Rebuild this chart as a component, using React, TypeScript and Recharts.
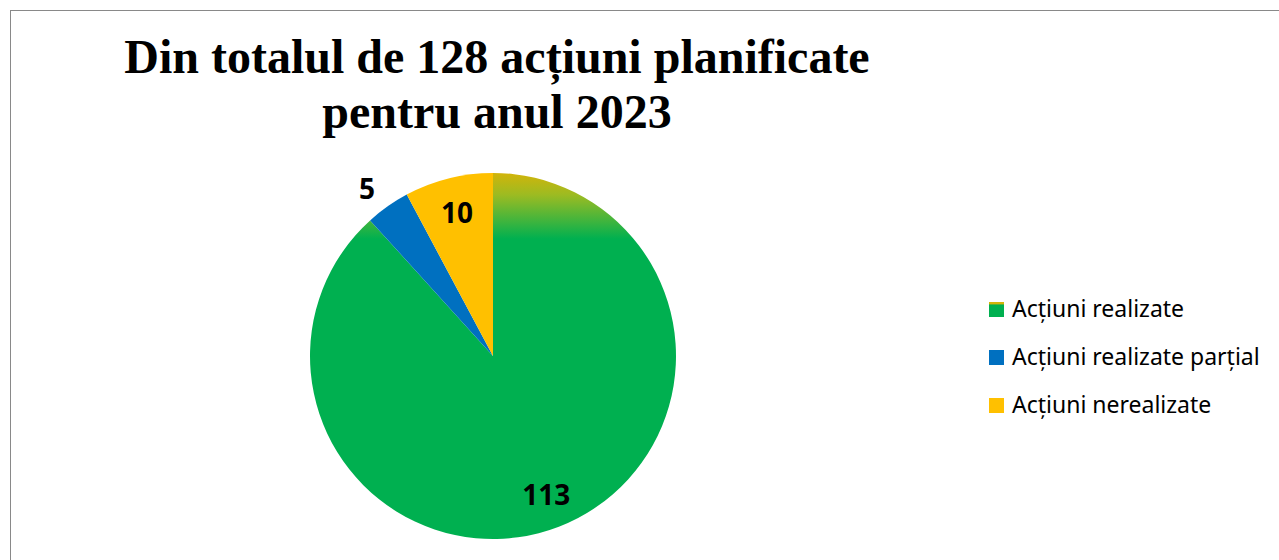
import React from "react";
import { PieChart, Pie, Cell } from "recharts";

const categories = ["Acțiuni realizate", "Acțiuni realizate parțial", "Acțiuni nerealizate"];
const values = [113, 5, 10];
const colors = ["url(#greenGrad)", "#0070C0", "#FFC000"];
const legendColors = ["url(#greenLegendGrad)", "#0070C0", "#FFC000"];
const titleLines = ["Din totalul de 128 acțiuni planificate", "pentru anul 2023"];

const data = categories.map((name, i) => ({ name, value: values[i] }));
const RADIAN = Math.PI / 180;

const renderLabel = (props: any) => {
  const { cx, cy, midAngle, outerRadius, value } = props;
  const outside = value < 8;
  const r = outside ? outerRadius * 1.12 : outerRadius * 0.81;
  const x = cx + r * Math.cos(-midAngle * RADIAN) + (outside ? -8 : 0);
  const y = cy + r * Math.sin(-midAngle * RADIAN);
  return (
    <text
      x={x}
      y={y}
      fill="#000"
      textAnchor="middle"
      dominantBaseline="central"
      style={{ fontFamily: "'Noto Sans', sans-serif", fontWeight: 700, fontSize: 28 }}
    >
      {value}
    </text>
  );
};

export default function App() {
  return (
    <div style={{ position: "absolute", left: 0, top: 0, width: 1279, height: 560, background: "#fff", overflow: "hidden" }}>
      <div
        style={{
          position: "absolute",
          left: 10,
          top: 10,
          width: 1290,
          height: 600,
          border: "1.5px solid #898989",
          boxSizing: "border-box",
        }}
      />
      <svg style={{ position: "absolute", left: 0, top: 0 }} width={1279} height={150}>
        {titleLines.map((t, i) => (
          <text
            key={i}
            x={497}
            y={73 + i * 55}
            textAnchor="middle"
            style={{
              fontFamily: "'Liberation Serif', 'Times New Roman', serif",
              fontWeight: 700,
              fontSize: 48,
              fill: "#000",
            }}
          >
            {t}
          </text>
        ))}
      </svg>
      <div style={{ position: "absolute", left: 0, top: 0 }}>
        <PieChart width={1279} height={560} margin={{ top: 0, right: 0, bottom: 0, left: 0 }}>
          <defs>
            <linearGradient id="greenGrad" x1="0" y1="0" x2="0" y2="1">
              <stop offset="0" stopColor="#D2B40A" />
              <stop offset="0.06" stopColor="#9CBB22" />
              <stop offset="0.18" stopColor="#00B050" />
              <stop offset="1" stopColor="#00B050" />
            </linearGradient>
          </defs>
          <Pie
            data={data}
            dataKey="value"
            nameKey="name"
            cx={493}
            cy={356}
            outerRadius={183}
            startAngle={90}
            endAngle={-270}
            stroke="none"
            label={renderLabel}
            labelLine={false}
            isAnimationActive={false}
          >
            {data.map((d, i) => (
              <Cell key={d.name} fill={colors[i]} />
            ))}
          </Pie>
        </PieChart>
      </div>
      <svg style={{ position: "absolute", left: 980, top: 285 }} width={299} height={150}>
        <defs>
          <linearGradient id="greenLegendGrad" x1="0" y1="0" x2="0" y2="1">
            <stop offset="0" stopColor="#D2B40A" />
            <stop offset="0.12" stopColor="#D2B40A" />
            <stop offset="0.2" stopColor="#00B050" />
            <stop offset="1" stopColor="#00B050" />
          </linearGradient>
        </defs>
        {categories.map((c, i) => (
          <g key={c}>
            <rect x={9} y={17 + i * 48} width={15} height={15} fill={legendColors[i]} />
            <text
              x={32}
              y={32 + i * 48}
              style={{ fontFamily: "'Noto Sans', sans-serif", fontSize: 23, fill: "#000" }}
            >
              {c}
            </text>
          </g>
        ))}
      </svg>
    </div>
  );
}
